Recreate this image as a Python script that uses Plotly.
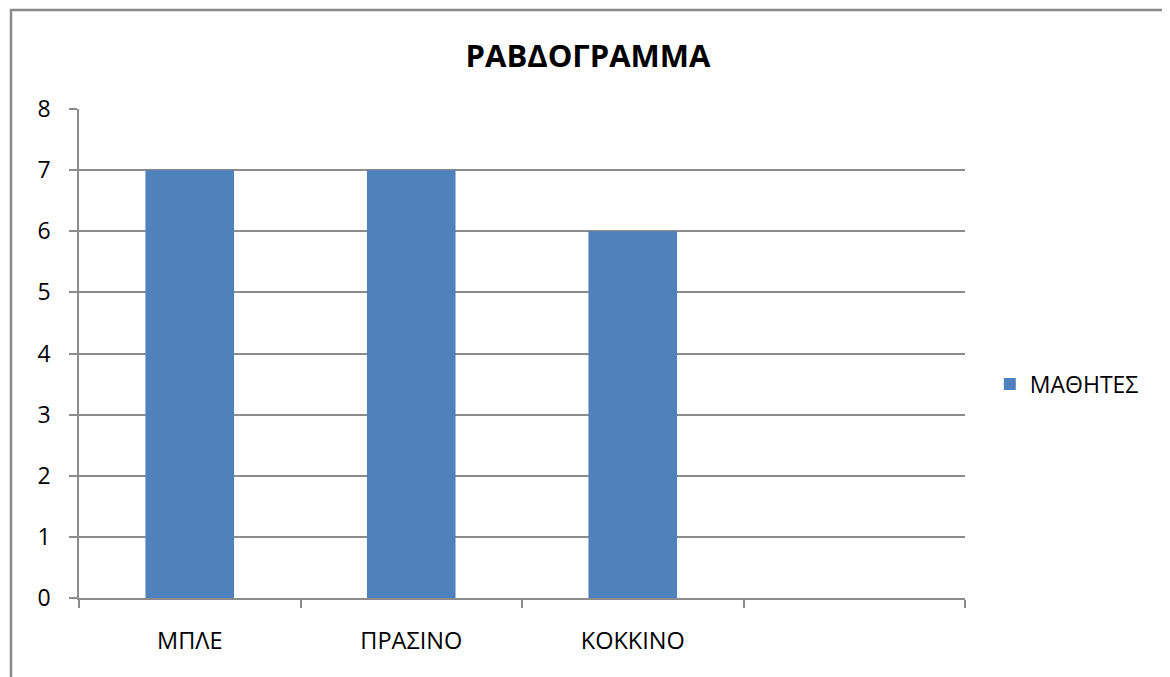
import plotly.graph_objects as go

categories = ["ΜΠΛΕ", "ΠΡΑΣΙΝΟ", "ΚΟΚΚΙΝΟ", " "]
values = [7, 7, 6, None]
series_name = "ΜΑΘΗΤΕΣ"
title_text = "ΡΑΒΔΟΓΡΑΜΜΑ"
y_ticks = [0, 1, 2, 3, 4, 5, 6, 7, 8]

FONT = "Open Sans"
GRID = "#8c8c8c"
W, H = 1162, 669  # page has an 8px body margin

fig = go.Figure()
fig.add_trace(go.Bar(
    x=categories, y=values, name=series_name,
    marker=dict(color="#4F81BD", line=dict(width=0)),
    width=0.4, showlegend=True,
))

fig.update_layout(
    width=W, height=H,
    margin=dict(l=71, r=205, t=101, b=79),
    paper_bgcolor="white", plot_bgcolor="white",
    font=dict(family=FONT, color="black", size=22),
    title=dict(text="<b>" + title_text + "</b>", x=580/W, xref="container",
               xanchor="center", y=1-48/H, yref="container", yanchor="middle",
               font=dict(size=31, family=FONT, color="black")),
    showlegend=True,
    legend=dict(x=1.028, y=0.4376, xanchor="left", yanchor="middle",
                font=dict(size=23, family=FONT), bgcolor="rgba(0,0,0,0)",
                itemwidth=30),
    bargap=0.6,
)
fig.update_xaxes(
    type="category", tickson="boundaries", ticks="outside", ticklen=8,
    tickcolor=GRID, tickwidth=1.5, showgrid=False,
    showline=True, linecolor=GRID, linewidth=1.5,
    range=[-0.5, 3.5], fixedrange=True, ticklabelstandoff=21,
    tickfont=dict(size=23.5),
)
fig.update_yaxes(
    range=[0, 8], tickvals=y_ticks, ticks="outside", ticklen=8,
    tickcolor=GRID, tickwidth=1.5, showgrid=True, gridcolor=GRID, gridwidth=1.5,
    showline=True, linecolor=GRID, linewidth=1.5, zeroline=False,
    tickfont=dict(size=23), ticklabelstandoff=14,
)
# chart outer border
fig.add_shape(type="rect", xref="paper", yref="paper",
              x0=(11-79)/886, x1=(1166-79)/886, y0=(598-690)/489, y1=(598-10)/489,
              line=dict(color="#8a8a8a", width=2.5), fillcolor="rgba(0,0,0,0)", layer="below")

fig.write_html("out.html")
